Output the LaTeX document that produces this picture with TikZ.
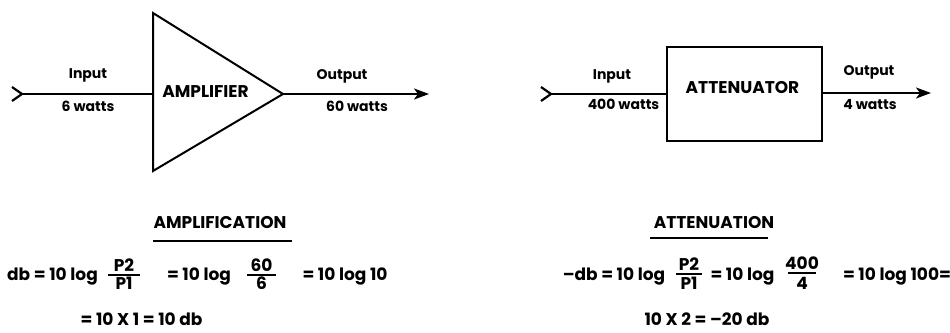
\documentclass[tikz,border=0pt]{standalone}
\usepackage{fontspec}
\setmainfont{Poppins}
\usetikzlibrary{arrows.meta,calc}
\tikzset{
  lbl/.style={font=\fontsize{14}{16}\selectfont\bfseries, inner sep=0pt, anchor=base},
  big/.style={font=\fontsize{17}{19}\selectfont\bfseries, inner sep=0pt, anchor=base},
  eq/.style={font=\fontsize{17}{19}\selectfont\bfseries, inner sep=0pt, anchor=base},
  wire/.style={line width=2.2pt},
  bar/.style={line width=2pt},
  outarrow/.style={line width=2.2pt, -{Stealth[length=15pt,width=11pt,inset=4pt]}},
  outline/.style={line width=2pt, line join=miter},
}
\begin{document}
\begin{tikzpicture}[x=1pt,y=1pt]
\useasboundingbox (0,0) rectangle (950,332);
% ---------- Amplifier ----------
\coordinate (ain) at (22,238);
\coordinate (atl) at (153,319);
\coordinate (abl) at (153,161);
\coordinate (aleft) at (153,238);
\coordinate (aapex) at (283,238);
\coordinate (aout) at (429,238);
\draw[outline] (atl) -- (abl) -- (aapex) -- cycle;
\draw[wire] (ain) -- (aleft);
\draw[outarrow] (aapex) -- (aout);
\draw[wire, line join=miter] ($(ain)+(-10,7)$) -- (ain) -- ($(ain)+(-10,-7)$);
\node[lbl] (ainl) at (88,253) {Input};
\node[lbl] (ainw) at (88,220) {6 watts};
\node[big] (alab) at (205.5,234) {AMPLIFIER};
\node[lbl] (aoutl) at (342,252) {Output};
\node[lbl] (aoutw) at (357,220) {60 watts};
% ---------- Attenuator ----------
\coordinate (tin) at (551,238);
\node[draw, outline, minimum width=155pt, minimum height=94pt, inner sep=0pt] (tbox) at (744.5,238) {};
\coordinate (tout) at (931,239);
\draw[wire] (tin) -- (tbox.west |- tin);
\draw[wire, line join=miter] ($(tin)+(-10,7)$) -- (tin) -- ($(tin)+(-10,-7)$);
\draw[outarrow] (tbox.east |- tout) -- (tout);
\node[big] (tlab) at (742.5,238) {ATTENUATOR};
\node[lbl] (tinl) at (612,252) {Input};
\node[lbl] (tinw) at (623.5,222) {400 watts};
\node[lbl] (toutl) at (869,256) {Output};
\node[lbl] (toutw) at (870,222) {4 watts};
% ---------- Amplification ----------
\node[big] (ahead) at (220,103) {AMPLIFICATION};
\coordinate (aul) at (153,91);
\coordinate (aur) at (292,91);
\draw[bar] (aul) -- (aur);
\node[eq] (ae1) at (52.5,52) {db = 10 log};
\node[eq] (af1n) at (124,60) {P2};
\node[eq] (af1d) at (124,42) {P1};
\coordinate (af1l) at (108,57);
\coordinate (af1r) at (140,57);
\draw[bar] (af1l) -- (af1r);
\node[eq] (ae2) at (199,52) {= 10 log};
\node[eq] (af2n) at (261.5,60) {60};
\node[eq] (af2d) at (261.5,42) {6};
\coordinate (af2l) at (247,57);
\coordinate (af2r) at (276,57);
\draw[bar] (af2l) -- (af2r);
\node[eq] (ae3) at (345,52) {= 10 log 10};
\node[eq] (ae4) at (141.5,7) {= 10 X 1 = 10 db};
% ---------- Attenuation ----------
\node[big] (thead) at (714,103) {ATTENUATION};
\coordinate (tul) at (650,94);
\coordinate (tur) at (768,94);
\draw[bar] (tul) -- (tur);
\node[eq] (te1) at (614,52) {--db = 10 log};
\node[eq] (tf1n) at (689,61) {P2};
\node[eq] (tf1d) at (689,42) {P1};
\coordinate (tf1l) at (676,58);
\coordinate (tf1r) at (702,58);
\draw[bar] (tf1l) -- (tf1r);
\node[eq] (te2) at (742.5,52) {= 10 log};
\node[eq] (tf2n) at (802,62) {400};
\node[eq] (tf2d) at (802,42) {4};
\coordinate (tf2l) at (788,59);
\coordinate (tf2r) at (816,59);
\draw[bar] (tf2l) -- (tf2r);
\node[eq] (te3) at (897,52) {= 10 log 100=};
\node[eq] (te4) at (707,7) {10 X 2 = --20 db};
\end{tikzpicture}
\end{document}
